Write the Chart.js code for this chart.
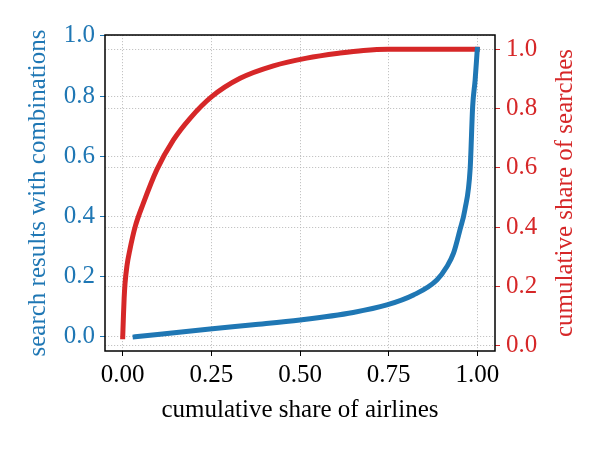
<!DOCTYPE html>
<html>
<head>
<meta charset="utf-8">
<script src="https://cdn.jsdelivr.net/npm/chart.js@4.4.0/dist/chart.umd.min.js"></script>
<style>
  body { margin: 0; background: #fff; }
  #wrap { width: 600px; height: 450px; }
</style>
</head>
<body>
<div id="wrap"><canvas id="chart"></canvas></div>
<script>
// search results with combinations (left axis)
const blueX = [0.035, 0.246, 0.368, 0.5, 0.65, 0.745, 0.82, 0.886, 0.914, 0.933, 0.951, 0.965, 0.98, 0.987, 0.994, 1.0];
const blueY = [0.0, 0.026, 0.04, 0.056, 0.081, 0.106, 0.139, 0.189, 0.233, 0.278, 0.355, 0.422, 0.56, 0.766, 0.854, 0.955];

// cumulative share of searches (right axis)
const redX = [0, 0.002, 0.004, 0.0065, 0.012, 0.02, 0.035, 0.058, 0.096, 0.143, 0.19, 0.251, 0.331, 0.425, 0.519, 0.613, 0.679, 0.748, 1.0];
const redY = [0.03, 0.1, 0.16, 0.21, 0.27, 0.323, 0.401, 0.48, 0.593, 0.694, 0.767, 0.84, 0.902, 0.944, 0.97, 0.987, 0.996, 1.0, 1.0];

const xTicks = [0, 0.25, 0.5, 0.75, 1.0];
const xTickLabels = ['0.00', '0.25', '0.50', '0.75', '1.00'];
const yTicks = [0, 0.2, 0.4, 0.6, 0.8, 1.0];
const yTickLabels = ['0.0', '0.2', '0.4', '0.6', '0.8', '1.0'];

const BLUE = '#1f77b4';
const RED = '#d62728';
const GRID = 'rgba(176,176,176,0.75)';
const FONT = { family: 'Liberation Serif', size: 25 };

Chart.defaults.font.family = 'Liberation Serif';

const frame = {
    id: 'frame',
    afterDraw(chart) {
        const { ctx, chartArea: a } = chart;
        ctx.save();
        ctx.strokeStyle = '#000';
        ctx.lineWidth = 1.5;
        ctx.strokeRect(a.left, a.top, a.right - a.left, a.bottom - a.top);
        // right axis title, reading bottom to top
        ctx.fillStyle = RED;
        ctx.font = '25px "Liberation Serif"';
        ctx.textAlign = 'center';
        ctx.textBaseline = 'middle';
        ctx.translate(565, (a.top + a.bottom) / 2);
        ctx.rotate(-Math.PI / 2);
        ctx.fillText('cumulative share of searches', 0, 0);
        ctx.restore();
    }
};

function setTicks(values) {
    return scale => { scale.ticks = values.map(v => ({ value: v })); };
}

new Chart(document.getElementById('chart'), {
    type: 'line',
    data: {
        datasets: [
            {
                data: blueX.map((x, i) => ({ x, y: blueY[i] })),
                yAxisID: 'y',
                borderColor: BLUE,
                borderWidth: 5,
                borderCapStyle: 'square',
                cubicInterpolationMode: 'monotone',
                pointRadius: 0
            },
            {
                data: redX.map((x, i) => ({ x, y: redY[i] })),
                yAxisID: 'y2',
                borderColor: RED,
                borderWidth: 5,
                borderCapStyle: 'square',
                cubicInterpolationMode: 'monotone',
                pointRadius: 0
            }
        ]
    },
    options: {
        responsive: true,
        maintainAspectRatio: false,
        animation: false,
        layout: { padding: { top: 35 } },
        plugins: { legend: { display: false }, tooltip: { enabled: false } },
        scales: {
            x: {
                type: 'linear',
                min: -0.05,
                max: 1.05,
                afterBuildTicks: setTicks(xTicks),
                afterFit: s => { s.height = 99; },
                grid: { color: GRID, tickColor: '#000', tickLength: 5 },
                border: { display: false, dash: [1.2, 1.8] },
                ticks: { color: '#000', font: FONT, padding: 4, maxRotation: 0,
                         callback: (v, i) => xTickLabels[i] },
                title: { display: true, text: 'cumulative share of airlines', color: '#000',
                         font: FONT, padding: { bottom: 25 } }
            },
            y: {
                position: 'left',
                min: -0.047,
                max: 1.003,
                afterBuildTicks: setTicks(yTicks),
                afterFit: s => { s.width = 105; },
                grid: { color: GRID, tickColor: BLUE, tickLength: 5 },
                border: { display: false, dash: [1.2, 1.8] },
                ticks: { color: BLUE, font: FONT, padding: 5,
                         callback: (v, i) => yTickLabels[i] },
                title: { display: true, text: 'search results with combinations', color: BLUE,
                         font: FONT, padding: { top: 23 } }
            },
            y2: {
                position: 'right',
                min: -0.018,
                max: 1.048,
                afterBuildTicks: setTicks(yTicks),
                afterFit: s => { s.width = 105; },
                grid: { color: GRID, tickColor: RED, tickLength: 5 },
                border: { display: false, dash: [1.2, 1.8] },
                ticks: { color: RED, font: FONT, padding: 6,
                         callback: (v, i) => yTickLabels[i] }
            }
        }
    },
    plugins: [frame]
});
</script>
</body>
</html>
